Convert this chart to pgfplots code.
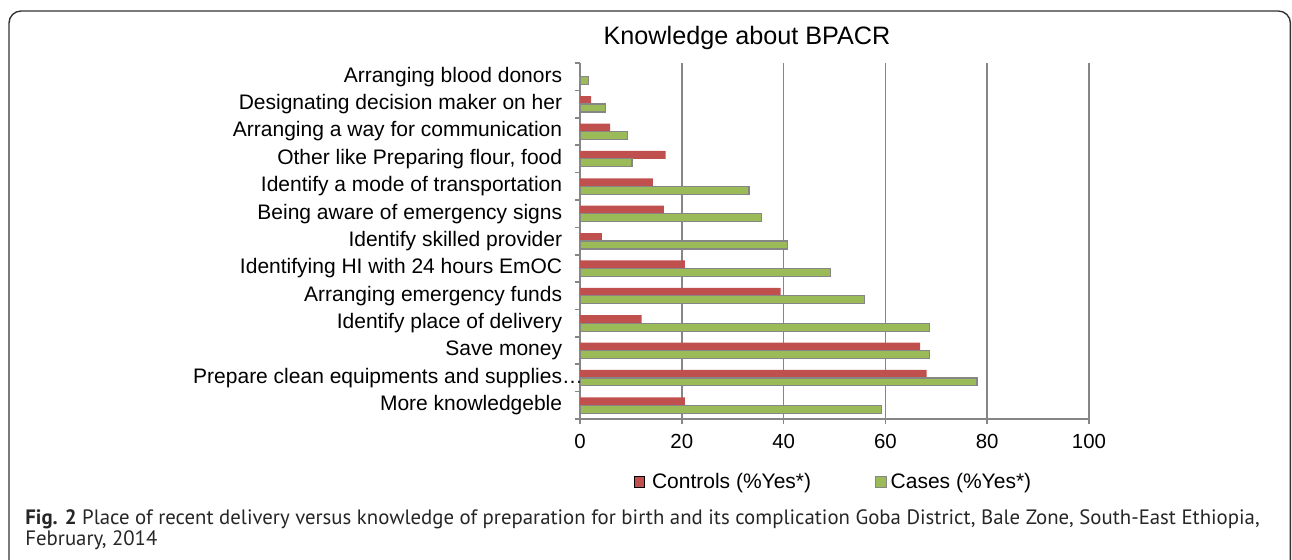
\documentclass[border=0pt]{standalone}
\usepackage{fontspec}
\setmainfont{Liberation Sans}
\newfontfamily\capfont{PT Sans}
\usepackage{pgfplots}
\pgfplotsset{compat=1.18}
\definecolor{ctrl}{HTML}{C0504D}
\definecolor{cases}{HTML}{9BBB59}
\definecolor{gridg}{HTML}{868686}
\begin{document}
\begin{tikzpicture}[x=1pt,y=1pt]
\path[use as bounding box] (0,0) rectangle (646,-279.5);
\begin{scope}
\clip (0,0) rectangle (646,-279.5);
\draw[rounded corners=6pt, line width=0.7pt, color=black!80] (4.5,-5.5) rectangle (645.2,-300);
\end{scope}
\node[font=\fontsize{12.6}{14}\selectfont] at (373.5,-19) {Knowledge about BPACR};
\begin{axis}[
  at={(290pt,-209.5pt)}, anchor=south west,
  width=254.5pt, height=178pt, scale only axis,
  xbar, bar width=0.29,
  xmin=0, xmax=100, ymin=-0.5, ymax=12.5,
  xtick={0,20,...,100},
  ytick={0,...,12},
  yticklabels={More knowledgeble, Prepare clean equipments and supplies\rlap{…}, Save money, Identify place of delivery, Arranging emergency funds, Identifying HI with 24 hours EmOC\hspace{3pt}, Identify skilled provider, Being aware of emergency signs\hspace{3pt}, Identify a mode of transportation, {Other like Preparing flour, food\hspace{3pt}}, Arranging a way for communication, Designating decision maker on her, Arranging blood donors},
  minor xtick={0,20,...,100},
  minor ytick={-0.5,0.5,...,12.5},
  major tick length=0pt, minor tick length=2.5pt, tick align=outside,
  every tick/.style={gridg, line width=0.8pt},
  axis x line*=bottom, axis y line*=left,
  x axis line style={-, gridg, line width=0.8pt},
  y axis line style={-, gridg, line width=0.8pt},
  xmajorgrids, major grid style={gridg, line width=0.8pt},
  /pgf/number format/assume math mode=true,
  yticklabel style={font=\fontsize{10.5}{12}\selectfont, xshift=-5.4pt},
  xticklabel style={font=\fontsize{10.2}{12}\selectfont, yshift=-4pt},
  legend style={at={(axis description cs:0.5,-0.177)}, anchor=center, draw=none, legend columns=2, font=\fontsize{10.5}{12}\selectfont,
    /tikz/every even column/.append style={column sep=30pt}},
  legend image code/.code={\draw[#1] (0pt,-2.6pt) rectangle (5.2pt,2.6pt);},
  legend cell align=left,
]
\addplot[fill=ctrl, draw=none, bar shift=0.145] coordinates {
(20.6,0) (68.1,1) (66.8,2) (12.1,3) (39.4,4) (20.6,5) (4.3,6) (16.5,7) (14.3,8) (16.8,9) (5.9,10) (2.2,11) (0,12)};
\addlegendentry{\hspace{1.5pt}Controls (\%Yes*)}
\addplot[fill=cases, draw=gridg, line width=0.6pt, bar shift=-0.145] coordinates {
(59.2,0) (78.0,1) (68.6,2) (68.6,3) (55.9,4) (49.2,5) (40.7,6) (35.7,7) (33.2,8) (10.2,9) (9.3,10) (5.0,11) (1.6,12)};
\addlegendentry{Cases (\%Yes*)}
\end{axis}
\node[anchor=base west, inner sep=0pt, font=\capfont\fontsize{10.4}{12}\selectfont, color=black!85] at (12.5,-262) {\textbf{Fig. 2} Place of recent delivery versus knowledge of preparation for birth and its complication Goba District, Bale Zone, South-East Ethiopia,};
\node[anchor=base west, inner sep=0pt, font=\capfont\fontsize{10.4}{12}\selectfont, color=black!85] at (12.5,-272.7) {February, 2014};
\end{tikzpicture}
\end{document}
